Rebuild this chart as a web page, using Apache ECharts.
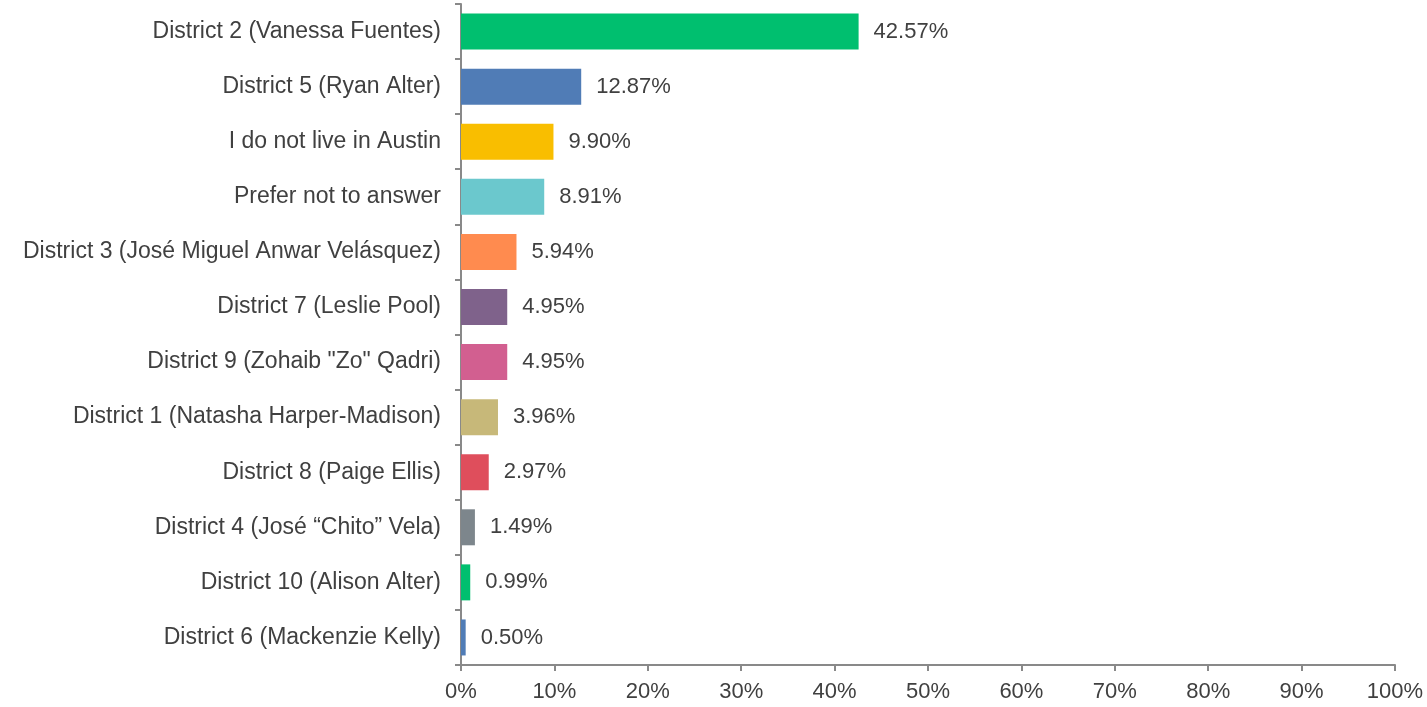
<!DOCTYPE html>
<html>
<head>
<meta charset="utf-8">
<style>
  html, body { margin: 0; padding: 0; background: #fff; }
  #main { width: 1427px; height: 707px; }
</style>
<script src="https://cdn.jsdelivr.net/npm/echarts@6/dist/echarts.min.js"></script>
</head>
<body>
<div id="main"></div>
<script>
// categories top to bottom
var categories = [
  'District 2 (Vanessa Fuentes)',
  'District 5 (Ryan Alter)',
  'I do not live in Austin',
  'Prefer not to answer',
  'District 3 (José Miguel Anwar Velásquez)',
  'District 7 (Leslie Pool)',
  'District 9 (Zohaib "Zo" Qadri)',
  'District 1 (Natasha Harper-Madison)',
  'District 8 (Paige Ellis)',
  'District 4 (José “Chito” Vela)',
  'District 10 (Alison Alter)',
  'District 6 (Mackenzie Kelly)'
]
var values = [42.57, 12.87, 9.90, 8.91, 5.94, 4.95, 4.95, 3.96, 2.97, 1.49, 0.99, 0.50]
var barColors = ['#00BF6F', '#507CB6', '#F9BE00', '#6BC8CD', '#FF8B4F', '#7F628B',
  '#D25F90', '#C7B879', '#DF4E5C', '#7D868C', '#00BF6F', '#507CB6']

var myChart = echarts.init(document.getElementById('main'))
var font = 'Liberation Sans, Arial, sans-serif'

myChart.setOption({
  animation: false,
  grid: { left: 461, right: 32, top: 4, bottom: 42 },
  xAxis: {
    type: 'value',
    min: 0,
    max: 100,
    interval: 10,
    axisLine: { show: true, lineStyle: { color: '#898989', width: 2 } },
    axisTick: { show: true, length: 6, lineStyle: { color: '#898989', width: 2 } },
    splitLine: { show: false },
    axisLabel: {
      formatter: '{value}%',
      color: '#404040',
      fontSize: 22,
      fontFamily: font,
      margin: 16
    }
  },
  yAxis: {
    type: 'category',
    inverse: true,
    data: categories,
    axisLine: { show: true, lineStyle: { color: '#898989', width: 2 } },
    axisTick: { show: true, length: 6, lineStyle: { color: '#898989', width: 2 } },
    axisLabel: {
      color: '#404040',
      fontSize: 23,
      fontFamily: font,
      margin: 20
    }
  },
  series: [{
    type: 'bar',
    barWidth: 36,
    data: values.map(function (v, i) {
      return { value: v, itemStyle: { color: barColors[i] } }
    }),
    label: {
      show: true,
      position: 'right',
      distance: 15,
      formatter: function (p) { return p.value.toFixed(2) + '%' },
      color: '#404040',
      fontSize: 22,
      fontFamily: font
    }
  }]
})
</script>
</body>
</html>
